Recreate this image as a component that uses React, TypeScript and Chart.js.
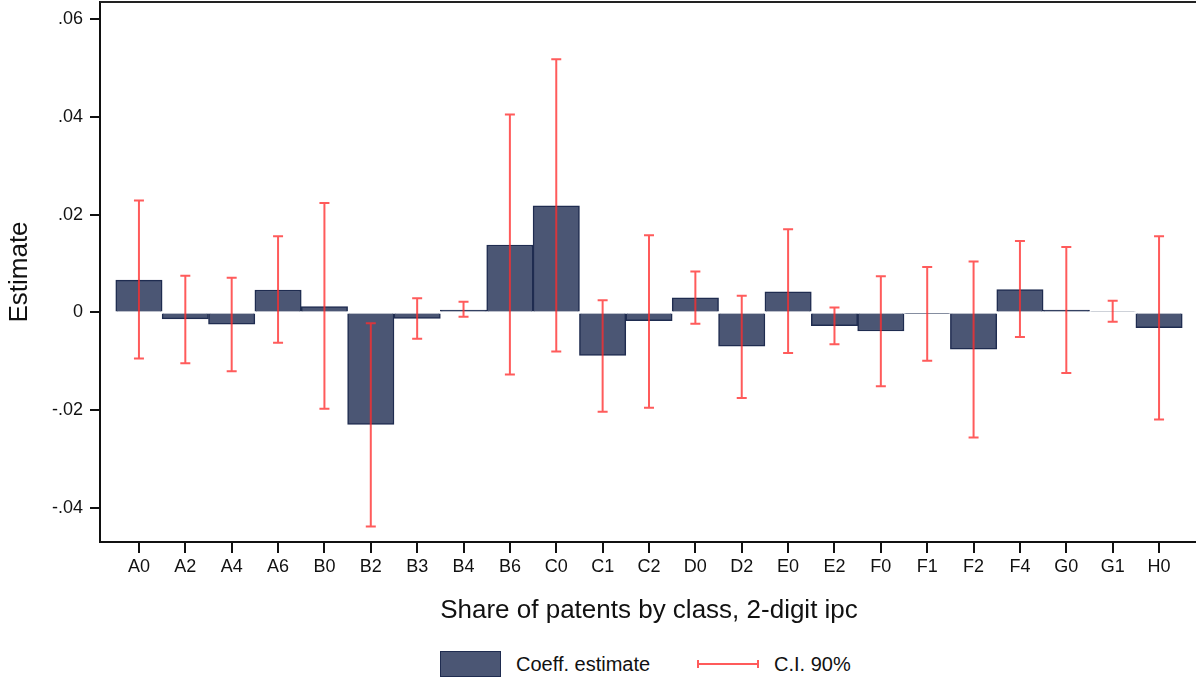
import React, { useEffect, useRef } from "react";
import { Chart, registerables } from "chart.js";

Chart.register(...registerables);

const categories = ["A0","A2","A4","A6","B0","B2","B3","B4","B6","C0","C1","C2","D0","D2","E0","E2","F0","F1","F2","F4","G0","G1","H0"];
const estimates = [0.0066, -0.0013, -0.0024, 0.0046, 0.0012, -0.0229, -0.0012, 0.0005, 0.0138, 0.0218, -0.0088, -0.0017, 0.0030, -0.0069, 0.0042, -0.0027, -0.0038, -0.0002, -0.0075, 0.0047, 0.0005, 0.0002, -0.0031];
const ciLower = [-0.0094, -0.0104, -0.0120, -0.0062, -0.0197, -0.0438, -0.0054, -0.0009, -0.0127, -0.0080, -0.0203, -0.0195, -0.0023, -0.0175, -0.0083, -0.0065, -0.0151, -0.0099, -0.0256, -0.0050, -0.0124, -0.0019, -0.0219];
const ciUpper = [0.0229, 0.0075, 0.0071, 0.0156, 0.0224, -0.0022, 0.0029, 0.0022, 0.0405, 0.0518, 0.0025, 0.0158, 0.0084, 0.0034, 0.0170, 0.0010, 0.0074, 0.0093, 0.0104, 0.0146, 0.0134, 0.0024, 0.0156];
const yTicks = [-0.04, -0.02, 0, 0.02, 0.04, 0.06];

const FONT = '"Liberation Sans", Arial, Helvetica, sans-serif';
const BAR_FILL = "#4b5674";
const BAR_BORDER = "#1f2c50";
const CI_COLOR = "rgba(255, 45, 45, 0.78)";

function fmtTick(v: number): string {
  if (Math.abs(v) < 1e-12) return "0";
  const s = Math.abs(v).toFixed(2).replace(/^0/, "");
  return (v < 0 ? "-" : "") + s;
}

const errorBarPlugin = {
  id: "errorBars",
  afterDatasetsDraw(chart: any) {
    const { ctx, scales } = chart;
    const xs = scales.x;
    const ys = scales.y;
    ctx.save();
    ctx.strokeStyle = CI_COLOR;
    ctx.lineWidth = 2;
    for (let i = 0; i < categories.length; i++) {
      const x = xs.getPixelForValue(i);
      const yl = ys.getPixelForValue(ciLower[i]);
      const yh = ys.getPixelForValue(ciUpper[i]);
      ctx.beginPath();
      ctx.moveTo(x, yl);
      ctx.lineTo(x, yh);
      ctx.moveTo(x - 5, yl);
      ctx.lineTo(x + 5, yl);
      ctx.moveTo(x - 5, yh);
      ctx.lineTo(x + 5, yh);
      ctx.stroke();
    }
    ctx.restore();
  },
  afterDraw(chart: any) {
    const { ctx, chartArea, scales } = chart;
    const xs = scales.x;
    ctx.save();
    ctx.strokeStyle = "#222";
    ctx.lineWidth = 2;
    ctx.beginPath();
    ctx.moveTo(chartArea.left, chartArea.top);
    ctx.lineTo(chartArea.right, chartArea.top);
    ctx.stroke();
    // x tick marks at category centres
    ctx.strokeStyle = "#111";
    ctx.lineWidth = 2;
    for (let i = 0; i < categories.length; i++) {
      const x = Math.round(xs.getPixelForValue(i));
      ctx.beginPath();
      ctx.moveTo(x, chartArea.bottom);
      ctx.lineTo(x, chartArea.bottom + 11);
      ctx.stroke();
    }
    ctx.restore();
  },
};

export default function App() {
  const canvasRef = useRef<HTMLCanvasElement | null>(null);

  useEffect(() => {
    document.body.style.margin = "0";
    const canvas = canvasRef.current;
    if (!canvas) return;
    const chart = new Chart(canvas, {
      type: "bar",
      data: {
        datasets: [
          {
            label: "Coeff. estimate",
            data: estimates.map((v, i) => ({ x: i, y: v })),
            backgroundColor: BAR_FILL,
            borderColor: BAR_BORDER,
            borderWidth: 1.5,
            barPercentage: 1,
            categoryPercentage: 1,
          },
        ],
      },
      options: {
        animation: false,
        responsive: false,
        maintainAspectRatio: false,
        layout: { padding: { top: 2, left: 0, right: 0, bottom: 0 } },
        plugins: {
          legend: { display: false },
          tooltip: { enabled: false },
        },
        scales: {
          x: {
            type: "linear",
            min: -0.84,
            max: 22.84,
            offset: false,
            afterBuildTicks: (scale: any) => {
              scale.ticks = categories.map((_, i) => ({ value: i }));
            },
            afterFit: (scale: any) => {
              scale.height = 88;
              scale.paddingLeft = 0;
              scale.paddingRight = 0;
            },
            ticks: {
              autoSkip: false,
              maxRotation: 0,
              minRotation: 0,
              padding: 4,
              color: "#111",
              font: { family: FONT, size: 18 },
              callback: (v: any) => categories[Math.round(Number(v))] ?? "",
            },
            grid: {
              offset: false,
              drawOnChartArea: false,
              drawTicks: true,
              tickLength: 10,
              color: "#111",
              lineWidth: 2,
            },
            border: { display: true, color: "#111", width: 2 },
            title: {
              display: true,
              text: "Share of patents by class, 2-digit ipc",
              color: "#111",
              font: { family: FONT, size: 26 },
              padding: { top: 0, bottom: 4 },
            },
          },
          y: {
            type: "linear",
            min: -0.04695,
            max: 0.0635,
            afterBuildTicks: (scale: any) => {
              scale.ticks = yTicks.map((v) => ({ value: v }));
            },
            afterFit: (scale: any) => {
              scale.width = 100;
              scale.paddingTop = 0;
              scale.paddingBottom = 0;
            },
            ticks: {
              padding: 7,
              color: "#111",
              font: { family: FONT, size: 18 },
              callback: (v: any) => fmtTick(Number(v)),
            },
            grid: {
              drawOnChartArea: false,
              drawTicks: true,
              tickLength: 10,
              color: "#111",
              lineWidth: 2,
            },
            border: { display: true, color: "#111", width: 2 },
            title: {
              display: true,
              text: "Estimate",
              color: "#111",
              font: { family: FONT, size: 26 },
              padding: { top: 4, bottom: 0 },
            },
          },
        },
      },
      plugins: [errorBarPlugin],
    });
    return () => chart.destroy();
  }, []);

  return (
    <div style={{ position: "relative", width: 1196, height: 681, overflow: "hidden", background: "#fff", fontFamily: FONT }}>
      <canvas ref={canvasRef} width={1198} height={630} style={{ position: "absolute", left: 0, top: 0, width: 1198, height: 630 }} />
      <div style={{ position: "absolute", left: 440, top: 651, width: 59, height: 24, background: BAR_FILL, border: `1px solid ${BAR_BORDER}` }} />
      <div style={{ position: "absolute", left: 516, top: 652, fontSize: 20, lineHeight: "24px", color: "#111", whiteSpace: "nowrap" }}>Coeff. estimate</div>
      <div style={{ position: "absolute", left: 697, top: 660, width: 62, height: 8, boxSizing: "border-box", borderLeft: `2px solid ${CI_COLOR}`, borderRight: `2px solid ${CI_COLOR}` }}>
        <div style={{ position: "absolute", left: 0, right: 0, top: 3, height: 2, background: CI_COLOR }} />
      </div>
      <div style={{ position: "absolute", left: 774, top: 652, fontSize: 20, lineHeight: "24px", color: "#111", whiteSpace: "nowrap" }}>C.I. 90%</div>
    </div>
  );
}
